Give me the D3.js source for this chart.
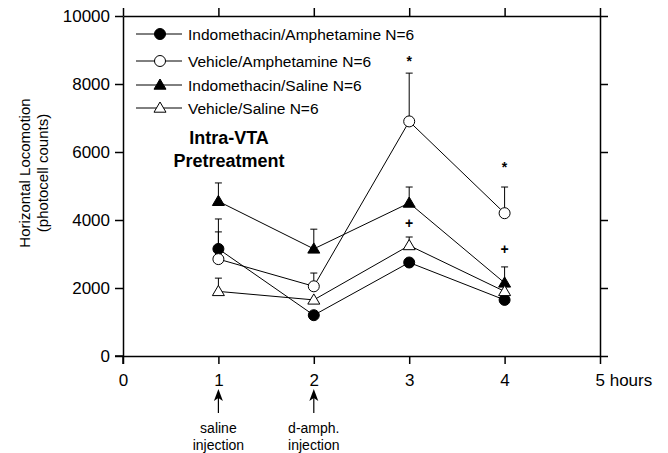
<!DOCTYPE html>
<html>
<head>
<meta charset="utf-8">
<script src="https://cdn.jsdelivr.net/npm/d3@7"></script>
<style>
  body { margin: 0; background: #fff; }
  svg { display: block; font-family: "Liberation Sans", Arial, sans-serif; }
  svg text { font-family: "Liberation Sans", Arial, sans-serif; }
</style>
</head>
<body>
<svg id="chart" width="668" height="453"></svg>
<script>
// ---- data ----
const hours = [1, 2, 3, 4];
const seriesNames = [
  "Indomethacin/Amphetamine N=6",
  "Vehicle/Amphetamine N=6",
  "Indomethacin/Saline N=6",
  "Vehicle/Saline N=6"
];
const indoAmph = [3150, 1200, 2750, 1650];
const vehAmph  = [2850, 2050, 6900, 4200];
const indoSal  = [4550, 3150, 4500, 2150];
const vehSal   = [1900, 1650, 3250, 1900];
// upper error-bar ends (mean + SEM); null = not visible
const indoAmphErr = [4030, null, null, null];
const vehAmphErr  = [3650, 2440, 8320, 4970];
const indoSalErr  = [5090, 3730, 4970, 2620];
const vehSalErr   = [2290, null, 3500, null];
const markers = ["circle", "circle", "triangle", "triangle"];
const filled = [true, false, true, false];
// significance marks
const starHours = [3, 4];
const starValues = [8700, 5600];
const plusHours = [3, 4];
const plusValues = [3900, 3150];
const xTicks = [0, 1, 2, 3, 4, 5];
const yTicks = [0, 2000, 4000, 6000, 8000, 10000];
const injections = [{h: 1, l1: "saline", l2: "injection"}, {h: 2, l1: "d-amph.", l2: "injection"}];

const series = [indoAmph, vehAmph, indoSal, vehSal];
const errs = [indoAmphErr, vehAmphErr, indoSalErr, vehSalErr];

// ---- chart ----
const svg = d3.select("#chart");
const x = d3.scaleLinear().domain([0, 5]).range([123, 600]);
const y = d3.scaleLinear().domain([0, 10000]).range([356, 16]);

function styleAxis(g) {
  g.attr("font-family", null).attr("font-size", null);
  g.select(".domain").attr("stroke", "#000").attr("stroke-width", 1.5);
  g.selectAll(".tick line").attr("stroke", "#000").attr("stroke-width", 1.5);
  g.selectAll("text").attr("fill", "#000").attr("font-size", 17);
}

svg.append("g").attr("transform", `translate(0,${y(0)})`)
  .call(d3.axisBottom(x).tickValues(xTicks).tickSize(8).tickSizeOuter(0).tickPadding(10)
    .tickFormat(d3.format("d")))
  .call(styleAxis)
  .call(g => g.selectAll(".tick text").filter(d => d === 5)
    .attr("text-anchor", "start").attr("x", -5).text("5 hours"));

svg.append("g").attr("transform", `translate(0,${y(10000)})`)
  .call(d3.axisTop(x).tickValues(xTicks).tickSize(8).tickSizeOuter(0).tickFormat(""))
  .call(styleAxis);

svg.append("g").attr("transform", `translate(${x(0)},0)`)
  .call(d3.axisLeft(y).tickValues(yTicks).tickSize(8).tickSizeOuter(0).tickPadding(5)
    .tickFormat(d3.format("d")))
  .call(styleAxis);

svg.append("g").attr("transform", `translate(${x(5)},0)`)
  .call(d3.axisRight(y).tickValues(yTicks).tickSize(8).tickSizeOuter(0).tickFormat(""))
  .call(styleAxis);

// extend axis lines to make corner crosses
svg.append("line").attr("x1", x(0) - 8).attr("x2", x(0)).attr("y1", y(0)).attr("y2", y(0)).attr("stroke", "#000").attr("stroke-width", 1.5);
svg.append("line").attr("x1", x(0)).attr("x2", x(0)).attr("y1", y(0)).attr("y2", y(0) + 8).attr("stroke", "#000").attr("stroke-width", 1.5);

// y label
const yl = svg.append("text").attr("transform", "translate(30,173) rotate(-90)")
  .attr("text-anchor", "middle").attr("font-size", 15).attr("fill", "#000");
yl.append("tspan").attr("x", 0).attr("dy", 0).text("Horizontal Locomotion");
yl.append("tspan").attr("x", 0).attr("dy", 18).text("(photocell counts)");

// title inside
svg.append("text").attr("x", 229).attr("y", 144).attr("text-anchor", "middle")
  .attr("font-size", 18).attr("font-weight", "bold").text("Intra-VTA");
svg.append("text").attr("x", 229).attr("y", 167).attr("text-anchor", "middle")
  .attr("font-size", 18).attr("font-weight", "bold").text("Pretreatment");

// marker drawing
function drawMarker(g, type, fill, cx, cy) {
  if (type === "circle") {
    g.append("circle").attr("cx", cx).attr("cy", cy).attr("r", 5.5)
      .attr("fill", fill ? "#000" : "#fff").attr("stroke", "#000").attr("stroke-width", 1);
  } else {
    const s = 6;
    g.append("path")
      .attr("d", `M${cx},${cy - s} L${cx + s},${cy + s * 0.7} L${cx - s},${cy + s * 0.7} Z`)
      .attr("fill", fill ? "#000" : "#fff").attr("stroke", "#000").attr("stroke-width", 1);
  }
}

const line = d3.line().x((d, i) => x(hours[i])).y(d => y(d));
const plot = svg.append("g");

// error bars
series.forEach((s, k) => {
  errs[k].forEach((e, i) => {
    if (e == null) return;
    const cx = x(hours[i]);
    plot.append("line").attr("x1", cx).attr("x2", cx).attr("y1", y(s[i])).attr("y2", y(e))
      .attr("stroke", "#000").attr("stroke-width", 1);
    plot.append("line").attr("x1", cx - 3.5).attr("x2", cx + 3.5).attr("y1", y(e)).attr("y2", y(e))
      .attr("stroke", "#000").attr("stroke-width", 1);
  });
});
// lines
series.forEach(s => {
  plot.append("path").attr("d", line(s)).attr("fill", "none").attr("stroke", "#000").attr("stroke-width", 1);
});
// markers
series.forEach((s, k) => {
  s.forEach((v, i) => drawMarker(plot, markers[k], filled[k], x(hours[i]), y(v)));
});

// significance marks
starHours.forEach((h, i) => {
  svg.append("text").attr("x", x(h)).attr("y", y(starValues[i]) + 6).attr("text-anchor", "middle")
    .attr("font-size", 14).attr("font-weight", "bold").text("*");
});
plusHours.forEach((h, i) => {
  svg.append("text").attr("x", x(h)).attr("y", y(plusValues[i]) + 5).attr("text-anchor", "middle")
    .attr("font-size", 14).attr("font-weight", "bold").text("+");
});

// legend
const legY = [34, 61, 85, 108];
seriesNames.forEach((n, k) => {
  const g = svg.append("g");
  g.append("line").attr("x1", 136).attr("x2", 182).attr("y1", legY[k]).attr("y2", legY[k])
    .attr("stroke", "#000").attr("stroke-width", 1);
  drawMarker(g, markers[k], filled[k], 160, legY[k]);
  g.append("text").attr("x", 188).attr("y", legY[k] + 5.5).attr("font-size", 15.5).attr("fill", "#000").text(n);
});

// injection arrows
injections.forEach(inj => {
  const cx = x(inj.h);
  svg.append("line").attr("x1", cx).attr("x2", cx).attr("y1", 396).attr("y2", 413)
    .attr("stroke", "#000").attr("stroke-width", 1.2);
  svg.append("path").attr("d", `M${cx},389 L${cx + 4.5},401 L${cx},398 L${cx - 4.5},401 Z`).attr("fill", "#000");
  svg.append("text").attr("x", cx).attr("y", 433).attr("text-anchor", "middle").attr("font-size", 14).text(inj.l1);
  svg.append("text").attr("x", cx).attr("y", 450).attr("text-anchor", "middle").attr("font-size", 14).text(inj.l2);
});
</script>
</body>
</html>
